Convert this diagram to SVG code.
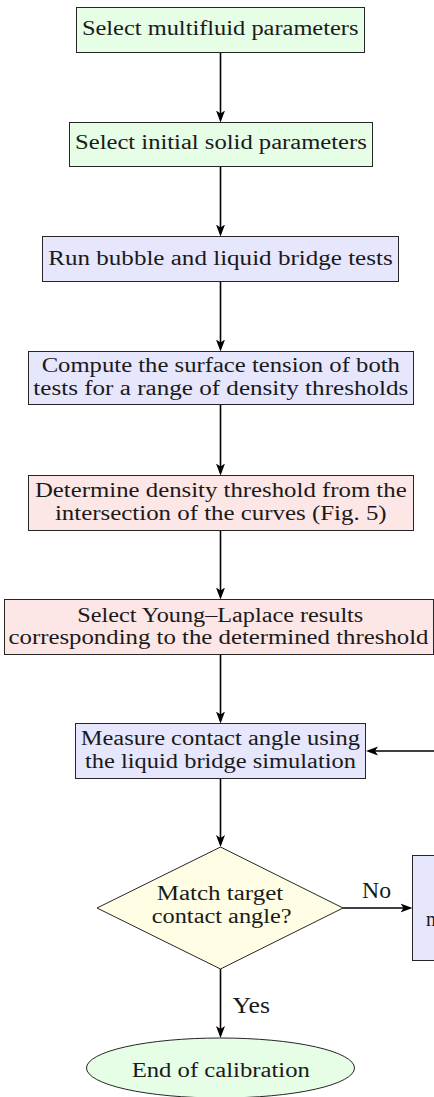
<svg xmlns="http://www.w3.org/2000/svg" width="434" height="1097" viewBox="0 0 434 1097">
  <style>
    .box { stroke: #262626; stroke-width: 1; }
    .green { fill: #e6fde6; }
    .blue { fill: #e6e6fd; }
    .red { fill: #fde6e6; }
    .yellow { fill: #fffde3; }
    .txt { font-family: "Liberation Serif", "Times New Roman", serif; font-size: 20px; fill: #1a1a1a; text-anchor: middle; }
    .lbl { font-family: "Liberation Serif", "Times New Roman", serif; font-size: 24px; fill: #1a1a1a; }
    .edge { stroke: #000; stroke-width: 1.6; fill: none; marker-end: url(#arrow); }
  </style>
  <defs>
    <marker id="arrow" viewBox="0 0 12 10" markerWidth="12" markerHeight="10" refX="9" refY="5" markerUnits="userSpaceOnUse" orient="auto">
      <path d="M0,0.5 L12,5 L0,9.5 L3,5 z" fill="#000"/>
    </marker>
  </defs>

  <!-- connectors -->
  <g id="edges">
    <line class="edge" x1="220.5" y1="52.5" x2="220.5" y2="119.5"/>
    <line class="edge" x1="220.5" y1="166.5" x2="220.5" y2="233.5"/>
    <line class="edge" x1="220.5" y1="281.5" x2="220.5" y2="348.5"/>
    <line class="edge" x1="220.5" y1="404.5" x2="220.5" y2="472.5"/>
    <line class="edge" x1="220.5" y1="530.5" x2="220.5" y2="596.5"/>
    <line class="edge" x1="220.5" y1="654.5" x2="220.5" y2="720.5"/>
    <line class="edge" x1="220.5" y1="778.5" x2="220.5" y2="844"/>
    <line class="edge" x1="220.5" y1="969" x2="220.5" y2="1035"/>
    <line class="edge" x1="343" y1="908" x2="409.5" y2="908"/>
    <line class="edge" x1="440" y1="751" x2="369" y2="751"/>
    <text class="lbl" x="362" y="898" textLength="29" lengthAdjust="spacingAndGlyphs">No</text>
    <text class="lbl" x="232.5" y="1013" textLength="37.5" lengthAdjust="spacingAndGlyphs">Yes</text>
  </g>

  <g id="n1">
    <rect class="box green" x="76.5" y="7.5" width="288" height="45"/>
    <text class="txt" x="220.2" y="35" textLength="276.5" lengthAdjust="spacingAndGlyphs">Select multifluid parameters</text>
  </g>

  <g id="n2">
    <rect class="box green" x="69.5" y="122.5" width="303" height="44"/>
    <text class="txt" x="220.9" y="149" textLength="291.7" lengthAdjust="spacingAndGlyphs">Select initial solid parameters</text>
  </g>

  <g id="n3">
    <rect class="box blue" x="42.5" y="236.5" width="356" height="45"/>
    <text class="txt" x="220.5" y="265" textLength="344.4" lengthAdjust="spacingAndGlyphs">Run bubble and liquid bridge tests</text>
  </g>

  <g id="n4">
    <rect class="box blue" x="28.5" y="351.5" width="385" height="53"/>
    <text class="txt" x="220.8" y="372" textLength="358.3" lengthAdjust="spacingAndGlyphs">Compute the surface tension of both</text>
    <text class="txt" x="220.8" y="394.5" textLength="375" lengthAdjust="spacingAndGlyphs">tests for a range of density thresholds</text>
  </g>

  <g id="n5">
    <rect class="box red" x="28.5" y="475.5" width="385" height="55"/>
    <text class="txt" x="220.8" y="497" textLength="371.7" lengthAdjust="spacingAndGlyphs">Determine density threshold from the</text>
    <text class="txt" x="220.8" y="519.5" textLength="331.7" lengthAdjust="spacingAndGlyphs">intersection of the curves (Fig. 5)</text>
  </g>

  <g id="n6">
    <rect class="box red" x="4.5" y="599.5" width="429" height="55"/>
    <text class="txt" x="220.3" y="621.5" textLength="286" lengthAdjust="spacingAndGlyphs">Select Young–Laplace results</text>
    <text class="txt" x="218.5" y="644" textLength="420" lengthAdjust="spacingAndGlyphs">corresponding to the determined threshold</text>
  </g>

  <g id="n7">
    <rect class="box blue" x="75.5" y="723.5" width="290" height="55"/>
    <text class="txt" x="220.4" y="745" textLength="279.3" lengthAdjust="spacingAndGlyphs">Measure contact angle using</text>
    <text class="txt" x="220.5" y="767.5" textLength="271" lengthAdjust="spacingAndGlyphs">the liquid bridge simulation</text>
  </g>

  <g id="decision">
    <polygon class="box yellow" points="220.5,847 343,908 220.5,969 97,908"/>
    <text class="txt" x="220" y="900" textLength="126.6" lengthAdjust="spacingAndGlyphs">Match target</text>
    <text class="txt" x="221.7" y="923" textLength="140" lengthAdjust="spacingAndGlyphs">contact angle?</text>
  </g>

  <g id="adjust">
    <rect class="box blue" x="412.5" y="855.5" width="40" height="105"/>
    <text class="txt" x="426" y="926" style="text-anchor:start">n</text>
  </g>

  <g id="end">
    <ellipse class="box green" cx="220.5" cy="1068" rx="134" ry="30"/>
    <text class="txt" x="220.8" y="1076.5" textLength="178.3" lengthAdjust="spacingAndGlyphs">End of calibration</text>
  </g>
</svg>
